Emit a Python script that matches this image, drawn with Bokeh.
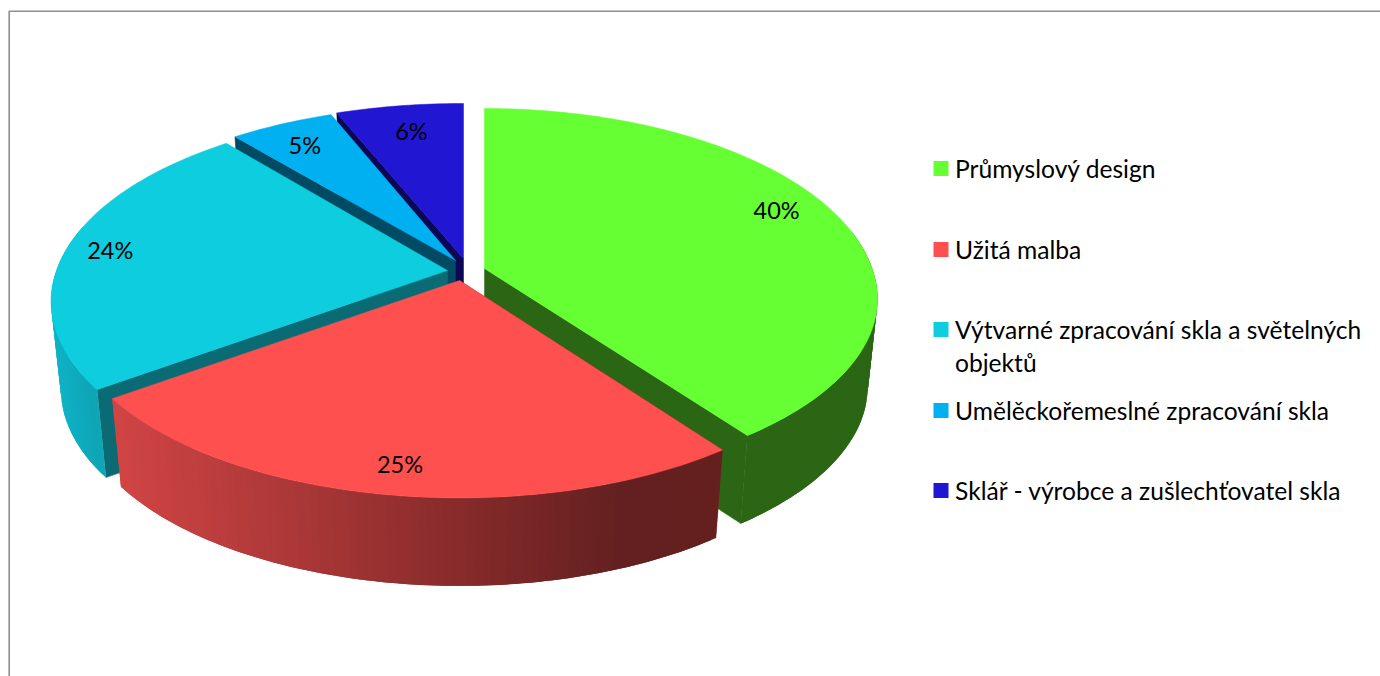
import numpy as np
from bokeh.plotting import figure
from bokeh.models import Range1d
from bokeh.core.properties import value
from bokeh.embed import file_html
from bokeh.resources import INLINE

categories = ["Průmyslový design", "Užitá malba",
              "Výtvarné zpracování skla a světelných\nobjektů",
              "Umělěckořemeslné zpracování skla",
              "Sklář - výrobce a zušlechťovatel skla"]
values = [40, 25, 24, 5, 6]
top_colors = ["#66FF33", "#FF5050", "#0DCDDE", "#00B0F0", "#2116D2"]
face_colors = ["#2B6614", "#7A2424", "#0A6B75", "#014A63", "#0B0757"]

# layout of the exploded 3-D pie, in page pixels
apex_x = [484, 459, 447, 455, 463]
apex_y = [268, 280, 270, 260, 258]
radius_x = [387.6, 387.6, 391.0, 390.0, 397.0]
radius_y_back = [186.4, 183.0, 186.0, 181.0, 180.6]
radius_y_front = [179.0, 181.5, 183.0, 183.0, 183.0]
K = 0.165
DEPTH, SHRINK = 88.0, 0.975
label_r = [0.83, 0.85, 0.89, 0.85, 0.83]
label_dx = [1, 2, 1, -3, 1]
label_dy = [-13, 1, 0, 0, -1]
wall_stops = [
    [(0, (43, 102, 20)), (2000, (43, 102, 20))],
    [(115, (208, 68, 68)), (300, (170, 55, 55)), (470, (133, 42, 42)), (620, (100, 32, 32)), (723, (100, 31, 31))],
    [(55, (15, 178, 197)), (110, (13, 160, 176))],
    [(0, (0, 120, 170)), (2000, (0, 120, 170))],
    [(0, (15, 10, 120)), (2000, (15, 10, 120))],
]
legend_y = [168, 249, 329, 410, 490]
legend_line_gap = 33

W, H = 1380, 676
p = figure(width=W, height=H, x_range=Range1d(0, W), y_range=Range1d(H, 0),
           output_backend="svg", toolbar_location=None, min_border=0)
p.axis.visible = False
p.grid.visible = False
p.outline_line_color = None
p.background_fill_color = "white"
p.border_fill_color = "white"


def rim(i, ax, ay, theta):
    u, v = np.sin(theta), -np.cos(theta)
    w = 1 - K * v
    ry_scale = np.where(v < 0, radius_y_back[i], radius_y_front[i])
    return ax + radius_x[i] * u / w, ay + ry_scale * v / w


def hexcol(c):
    return "#%02x%02x%02x" % tuple(int(round(x)) for x in c)


def wall_colour(stops, x):
    xs = [s[0] for s in stops]
    return hexcol([np.interp(x, xs, [s[1][i] for s in stops]) for i in range(3)])


fracs = np.array(values, dtype=float) / sum(values)
edges = np.concatenate([[0], np.cumsum(fracs)]) * 2 * np.pi

# frame
p.line([8.7, 8.7, W], [H, 10.7, 10.7], line_color="#8E8E8E", line_width=1.6)

# back to front drawing order
for i in [4, 3, 2, 0, 1]:
    ax, ay = apex_x[i], apex_y[i]
    t0, t1 = edges[i], edges[i + 1]
    n = max(4, int(np.degrees(t1 - t0)))
    th = np.linspace(t0, t1, n + 1)
    rx, ry = rim(i, ax, ay, th)
    bx, by = ax + (rx - ax) * SHRINK, ry + DEPTH

    # the visible cut face of the slice
    end = n if i == 0 else 0
    fx = [ax, rx[end], bx[end], ax]
    fy = [ay, ry[end], by[end], ay + DEPTH]
    p.patch(fx, fy, fill_color=face_colors[i], line_color=face_colors[i], line_width=0.5)

    # outer wall as overlapping strips, because it carries a horizontal gradient
    xs, ys, cols = [], [], []
    idx = [j for j in range(n) if -np.cos(th[j]) > -0.22]
    if i == 2:
        idx = idx[::-1]
    for j in idx:
        j2 = min(j + 2, n)
        xs.append([rx[j], *rx[j + 1:j2 + 1], *bx[j + 1:j2 + 1][::-1], bx[j]])
        ys.append([ry[j], *ry[j + 1:j2 + 1], *by[j + 1:j2 + 1][::-1], by[j]])
        cols.append(wall_colour(wall_stops[i], (rx[j] + rx[j + 1]) / 2))
    if xs:
        p.patches(xs, ys, fill_color=cols, line_color=None)

    # top
    p.patch(np.concatenate([[ax], rx]), np.concatenate([[ay], ry]),
            fill_color=top_colors[i], line_color=top_colors[i], line_width=0.5)

# percentage labels
lx, ly, lt = [], [], []
for i, val in enumerate(values):
    mid = (edges[i] + edges[i + 1]) / 2
    ox, oy = rim(i, 0, 0, mid)
    lx.append(apex_x[i] + ox * label_r[i] + label_dx[i])
    ly.append(apex_y[i] + oy * label_r[i] + label_dy[i])
    lt.append(f"{val}%")
p.text(lx, ly, text=lt, text_font=value("Lato"), text_font_size=value("23.5px"),
       text_align="center", text_baseline="middle", text_color="black")

# legend
p.rect([940.5] * 5, legend_y, width=15, height=15, fill_color=top_colors, line_color=None)
tx, ty, tt = [], [], []
for name, y in zip(categories, legend_y):
    for k, line in enumerate(name.split("\n")):
        tx.append(954.5)
        ty.append(y + k * legend_line_gap)
        tt.append(line)
p.text(tx, ty, text=tt, text_font=value("Lato"), text_font_size=value("24.6px"),
       text_align="left", text_baseline="middle", text_color="black")

open("out.html", "w").write(file_html(p, INLINE))
